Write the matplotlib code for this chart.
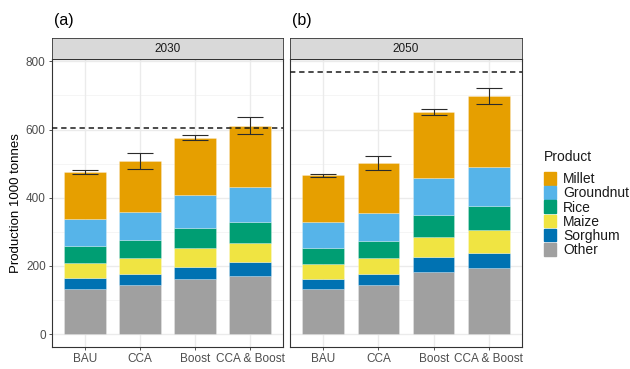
import numpy as np
import matplotlib.pyplot as plt
from matplotlib.patches import Rectangle

plt.rcParams['font.family'] = ['Liberation Sans', 'DejaVu Sans']

# scenario names and crop groups (stack order bottom -> top)
scenarios = ['BAU', 'CCA', 'Boost', 'CCA & Boost']
products = ['Other', 'Sorghum', 'Maize', 'Rice', 'Groundnut', 'Millet']
colors = {'Millet': '#E69F00', 'Groundnut': '#56B4E9', 'Rice': '#009E73',
          'Maize': '#F0E442', 'Sorghum': '#0072B2', 'Other': '#A0A0A0'}
legend_order = ['Millet', 'Groundnut', 'Rice', 'Maize', 'Sorghum', 'Other']

# production by crop (1000 tonnes), one list per scenario in product order
prod_2030 = {
    'BAU':         [133, 31, 45, 48, 80, 138],
    'CCA':         [143, 32, 48, 52, 84, 148],
    'Boost':       [161, 37, 54, 59, 97, 168],
    'CCA & Boost': [169, 41, 57, 63, 102, 178],
}
prod_2050 = {
    'BAU':         [132, 31, 43, 46, 76, 138],
    'CCA':         [144, 31, 48, 49, 83, 146],
    'Boost':       [181, 44, 61, 63, 109, 194],
    'CCA & Boost': [194, 44, 68, 69, 116, 208],
}
# error bar ranges (low, high)
err_2030 = [(469, 481), (484, 532), (569, 583), (588, 636)]
err_2050 = [(460, 471), (482, 522), (644, 661), (676, 722)]
# demand reference line
demand_2030 = 605
demand_2050 = 769

panels = [('2030', '(a)', prod_2030, err_2030, demand_2030),
          ('2050', '(b)', prod_2050, err_2050, demand_2050)]

W, H = 630, 369
fig = plt.figure(figsize=(W / 100, H / 100), dpi=100)
ax_pos = [(0.0825, 0.0596, 0.3667, 0.7805), (0.4603, 0.0596, 0.3683, 0.7805)]

x = np.arange(1, len(scenarios) + 1)
for i, (year, tag, prod, err, demand) in enumerate(panels):
    l, b, w, h = ax_pos[i]
    ax = fig.add_axes([l, b, w, h])
    ax.set_xlim(0.4, 4.6)
    ax.set_ylim(-38, 807)

    # grid like theme_bw
    for y in [100, 300, 500, 700]:
        ax.axhline(y, color='#F2F2F2', lw=0.5, zorder=0)
    for y in [0, 200, 400, 600, 800]:
        ax.axhline(y, color='#EBEBEB', lw=1.0, zorder=0)
    for xi in x:
        ax.axvline(xi, color='#EBEBEB', lw=1.0, zorder=0)

    bottoms = np.zeros(len(scenarios))
    for k, p in enumerate(products):
        vals = np.array([prod[s][k] for s in scenarios])
        ax.bar(x, vals, width=0.75, bottom=bottoms, color=colors[p],
               edgecolor=(1, 1, 1, 0.35), linewidth=0.5, zorder=2)
        bottoms += vals

    lo = np.array([e[0] for e in err])
    hi = np.array([e[1] for e in err])
    mid = (lo + hi) / 2
    ax.errorbar(x, mid, yerr=(hi - lo) / 2, fmt='none', ecolor='#2b2b2b',
                elinewidth=0.8, capsize=9.5, capthick=0.8, zorder=3)

    ax.axhline(demand, color='#1a1a1a', lw=1.1, ls=(0, (3.5, 2.5)), zorder=3)

    ax.set_xticks(x)
    ax.set_xticklabels(scenarios, fontsize=8.5, color='#4D4D4D')
    ax.set_yticks([0, 200, 400, 600, 800])
    if i == 0:
        ax.set_yticklabels(['0', '200', '400', '600', '800'], fontsize=8.5, color='#4D4D4D')
        ax.set_ylabel('Production 1000 tonnes', fontsize=9.5, labelpad=3)
    else:
        ax.set_yticklabels([])
    ax.tick_params(axis='both', width=0.6, length=2.5, color='#333333', pad=2)
    if i == 1:
        ax.tick_params(axis='y', length=0)
    for sp in ax.spines.values():
        sp.set_color('#333333')
        sp.set_linewidth(0.8)

    # facet strip
    sax = fig.add_axes([l, b + h, w, 0.056])
    sax.set_facecolor('#D9D9D9')
    sax.set_xticks([])
    sax.set_yticks([])
    for sp in sax.spines.values():
        sp.set_color('#333333')
        sp.set_linewidth(0.6)
    sax.text(0.5, 0.5, year, ha='center', va='center', fontsize=8.5,
             color='#1A1A1A', transform=sax.transAxes)

    fig.text(l + 0.003, 0.945, tag, fontsize=11.5, ha='left', va='center')

# legend, laid out in pixel units
key_x, key_top, key_w, key_h, row_h = 544, 172, 12, 12.5, 14.2
fig.text(key_x / W, 1 - 157 / H, 'Product', fontsize=10, color='#1A1A1A',
         ha='left', va='center')
for j, p in enumerate(legend_order):
    y0 = key_top + j * row_h
    fig.patches.append(Rectangle((key_x / W, 1 - (y0 + key_h) / H), key_w / W, key_h / H,
                                 transform=fig.transFigure, color=colors[p]))
    fig.text(563 / W, 1 - (y0 + row_h / 2) / H, p, fontsize=10, color='#1A1A1A',
             ha='left', va='center')

fig.savefig('out.png', dpi=100)
